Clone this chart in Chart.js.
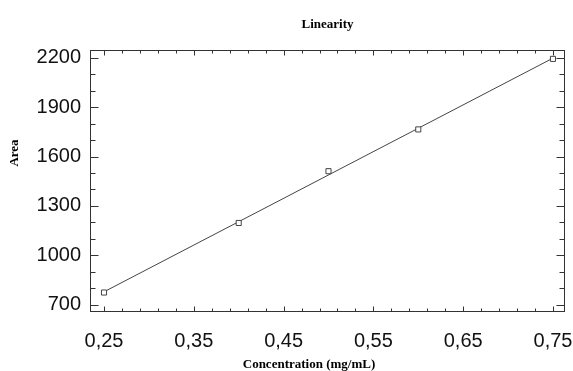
<!DOCTYPE html>
<html>
<head>
<meta charset="utf-8">
<script src="https://cdn.jsdelivr.net/npm/chart.js@4.4.1/dist/chart.umd.min.js"></script>
<style>
  html, body { margin: 0; padding: 0; background: #ffffff; }
  #wrap { width: 573px; height: 371px; position: relative; }
</style>
</head>
<body>
<div id="wrap"><canvas id="c"></canvas></div>
<script>
// ---- data ----
const concentration = [0.25, 0.40, 0.50, 0.60, 0.75];
const area = [773, 1196, 1511, 1765, 2194];

const xTickValues = [0.25, 0.35, 0.45, 0.55, 0.65, 0.75];
const xTickLabels = ['0,25', '0,35', '0,45', '0,55', '0,65', '0,75'];
const yTickValues = [700, 1000, 1300, 1600, 1900, 2200];
const yTickLabels = ['700', '1000', '1300', '1600', '1900', '2200'];

const titleText = 'Linearity';
const xTitle = 'Concentration (mg/mL)';
const yTitle = 'Area';

// least-squares fit line through the measured points
const n = concentration.length;
const mx = concentration.reduce((a, b) => a + b, 0) / n;
const my = area.reduce((a, b) => a + b, 0) / n;
let sxy = 0, sxx = 0;
for (let i = 0; i < n; i++) {
  sxy += (concentration[i] - mx) * (area[i] - my);
  sxx += (concentration[i] - mx) * (concentration[i] - mx);
}
const slope = sxy / sxx;
const intercept = my - slope * mx;
const xFirst = concentration[0], xLast = concentration[n - 1];
const fitLine = [
  { x: xFirst, y: intercept + slope * xFirst },
  { x: xLast, y: intercept + slope * xLast }
];

const ink = '#333333';

const framePlugin = {
  id: 'frameAndTicks',
  afterDatasetsDraw(chart) {
    const ctx = chart.ctx;
    const ca = chart.chartArea;
    const xs = chart.scales.x, ys = chart.scales.y;
    ctx.save();
    ctx.strokeStyle = ink;
    ctx.lineWidth = 1;
    const L = Math.round(ca.left) + 0.5, R = Math.round(ca.right) - 0.5;
    const T = Math.round(ca.top) + 0.5, B = Math.round(ca.bottom) - 0.5;
    ctx.strokeRect(L, T, R - L, B - T);
    ctx.beginPath();
    // x ticks (major + minor every 0.02), inward on bottom and top
    for (let k = 0; k <= 25; k++) {
      const v = xTickValues[0] + k * 0.02;
      if (v > xs.max) break;
      const major = k % 5 === 0;
      const len = major ? 5 : 3;
      const px = Math.round(xs.getPixelForValue(v)) + 0.5;
      ctx.moveTo(px, B); ctx.lineTo(px, B - len);
      ctx.moveTo(px, T); ctx.lineTo(px, T + len);
    }
    // y ticks (major + minor every 100), inward on left and right
    for (let k = 0; k <= 15; k++) {
      const v = yTickValues[0] + k * 100;
      if (v > ys.max) break;
      const major = k % 3 === 0;
      const len = major ? 8 : 5;
      const py = Math.round(ys.getPixelForValue(v)) + 0.5;
      ctx.moveTo(L, py); ctx.lineTo(L + len, py);
      ctx.moveTo(R, py); ctx.lineTo(R - len, py);
    }
    ctx.stroke();

    // titles
    ctx.fillStyle = '#000000';
    ctx.font = 'bold 13px "Liberation Serif", "Times New Roman", serif';
    ctx.textAlign = 'center';
    ctx.textBaseline = 'middle';
    ctx.fillText(titleText, (ca.left + ca.right) / 2, 25);
    ctx.fillText(xTitle, 309, 365);
    ctx.translate(15, 153);
    ctx.rotate(-Math.PI / 2);
    ctx.fillText(yTitle, 0, 0);
    ctx.restore();
  }
};

new Chart(document.getElementById('c'), {
  type: 'scatter',
  data: {
    datasets: [
      {
        label: 'Measured',
        data: concentration.map((x, i) => ({ x: x, y: area[i] })),
        showLine: false,
        pointStyle: 'rect',
        pointRadius: 3.6,
        pointBorderWidth: 1,
        pointBorderColor: '#444444',
        pointBackgroundColor: '#ffffff',
        order: 0
      },
      {
        label: 'Fit',
        data: fitLine,
        showLine: true,
        borderColor: '#444444',
        borderWidth: 1,
        pointRadius: 0,
        fill: false,
        order: 1
      }
    ]
  },
  options: {
    responsive: true,
    maintainAspectRatio: false,
    animation: false,
    events: [],
    layout: { padding: { left: 0, right: 8, top: 50, bottom: 0 } },
    plugins: {
      legend: { display: false },
      title: { display: false },
      tooltip: { enabled: false }
    },
    scales: {
      x: {
        type: 'linear',
        min: 0.2344,
        max: 0.7634,
        grid: { display: false, drawTicks: false },
        border: { display: false },
        afterBuildTicks(scale) { scale.ticks = xTickValues.map(v => ({ value: v })); },
        afterFit(scale) {
          scale.height = 59;
          scale.paddingLeft = 0;
          scale.paddingRight = 0;
        },
        ticks: {
          padding: 17,
          color: '#111111',
          font: { family: '"Liberation Sans", Arial, sans-serif', size: 20 },
          maxRotation: 0,
          autoSkip: false,
          callback(value, index) { return xTickLabels[index]; }
        }
      },
      y: {
        type: 'linear',
        min: 654.5,
        max: 2248,
        grid: { display: false, drawTicks: false },
        border: { display: false },
        afterBuildTicks(scale) { scale.ticks = yTickValues.map(v => ({ value: v })); },
        afterFit(scale) {
          scale.width = 90;
          scale.paddingTop = 0;
          scale.paddingBottom = 0;
        },
        ticks: {
          padding: 9,
          color: '#111111',
          font: { family: '"Liberation Sans", Arial, sans-serif', size: 20 },
          autoSkip: false,
          callback(value, index) { return yTickLabels[index]; }
        }
      }
    }
  },
  plugins: [framePlugin]
});
</script>
</body>
</html>
